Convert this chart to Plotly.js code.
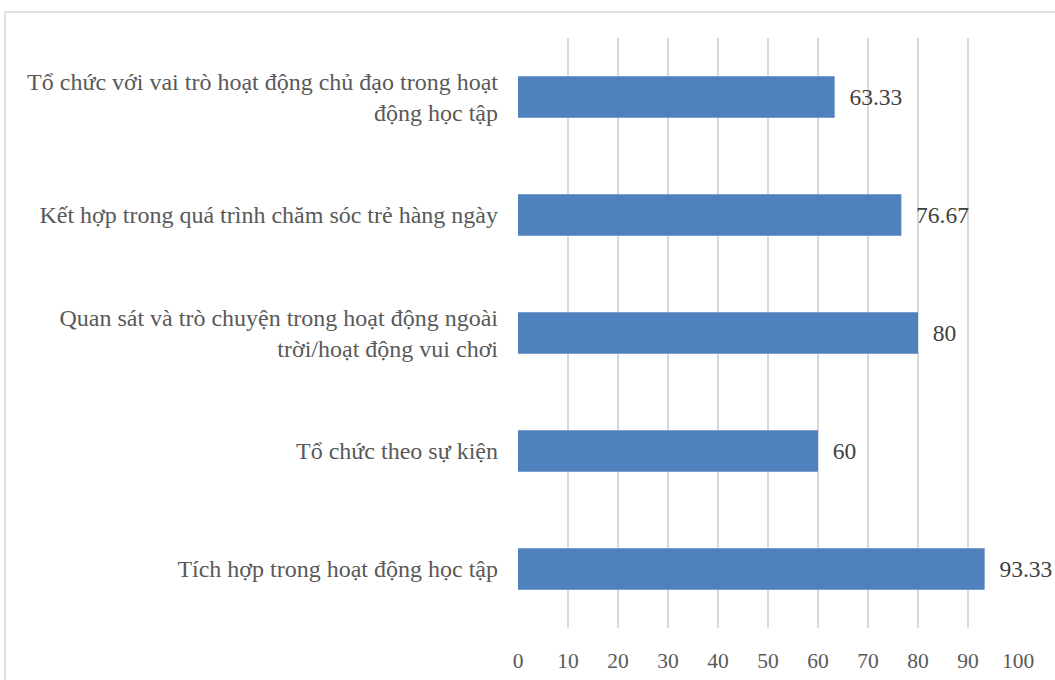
<!DOCTYPE html>
<html>
<head>
<meta charset="utf-8">
<script src="https://cdn.plot.ly/plotly-3.0.1.min.js"></script>
<style>html,body{margin:0;padding:0;background:#fff;}#chart{width:1055px;height:680px;}</style>
</head>
<body>
<div id="chart"></div>
<script>
const categories = [
  "Tích hợp trong hoạt động học tập",
  "Tổ chức theo sự kiện",
  "Quan sát và trò chuyện trong hoạt động ngoài<br>trời/hoạt động vui chơi",
  "Kết hợp trong quá trình chăm sóc trẻ hàng ngày",
  "Tổ chức với vai trò hoạt động chủ đạo trong hoạt<br>động học tập"
];
const values = [93.33, 60, 80, 76.67, 63.33];
const tickValues = [0, 10, 20, 30, 40, 50, 60, 70, 80, 90, 100];

const font = "Liberation Serif, Times New Roman, serif";

const trace = {
  type: "bar",
  orientation: "h",
  x: values,
  y: categories,
  marker: {color: "#4f81bd"},
  text: values.map(v => "  " + v),
  textposition: "outside",
  textfont: {family: font, size: 23.5, color: "#404040"},
  cliponaxis: false,
  hoverinfo: "x+y"
};

const layout = {
  width: 1055,
  height: 680,
  margin: {l: 518, r: 37, t: 38, b: 52},
  paper_bgcolor: "#ffffff",
  plot_bgcolor: "#ffffff",
  showlegend: false,
  bargap: 0.65,
  font: {family: font, size: 21, color: "#595959"},
  xaxis: {
    range: [0, 100],
    tickvals: tickValues,
    ticktext: tickValues.map(String),
    showgrid: true,
    gridcolor: "#d9d9d9",
    gridwidth: 1.5,
    zeroline: false,
    showline: false,
    ticks: "",
    ticklabelstandoff: 17,
    tickfont: {family: font, size: 21.5, color: "#595959"},
    fixedrange: true
  },
  yaxis: {
    showgrid: false,
    zeroline: false,
    showline: false,
    ticks: "",
    ticklabelstandoff: 19,
    tickfont: {family: font, size: 24, color: "#595959"},
    automargin: false,
    fixedrange: true
  },
  shapes: [{
    type: "rect",
    xref: "paper", yref: "paper",
    x0: -1.026, x1: 1.2, y0: -0.3, y1: 1.044,
    line: {color: "#d9d9d9", width: 1.5},
    fillcolor: "rgba(0,0,0,0)",
    layer: "below"
  }]
};

Plotly.newPlot("chart", [trace], layout, {displayModeBar: false, staticPlot: true});
</script>
</body>
</html>
